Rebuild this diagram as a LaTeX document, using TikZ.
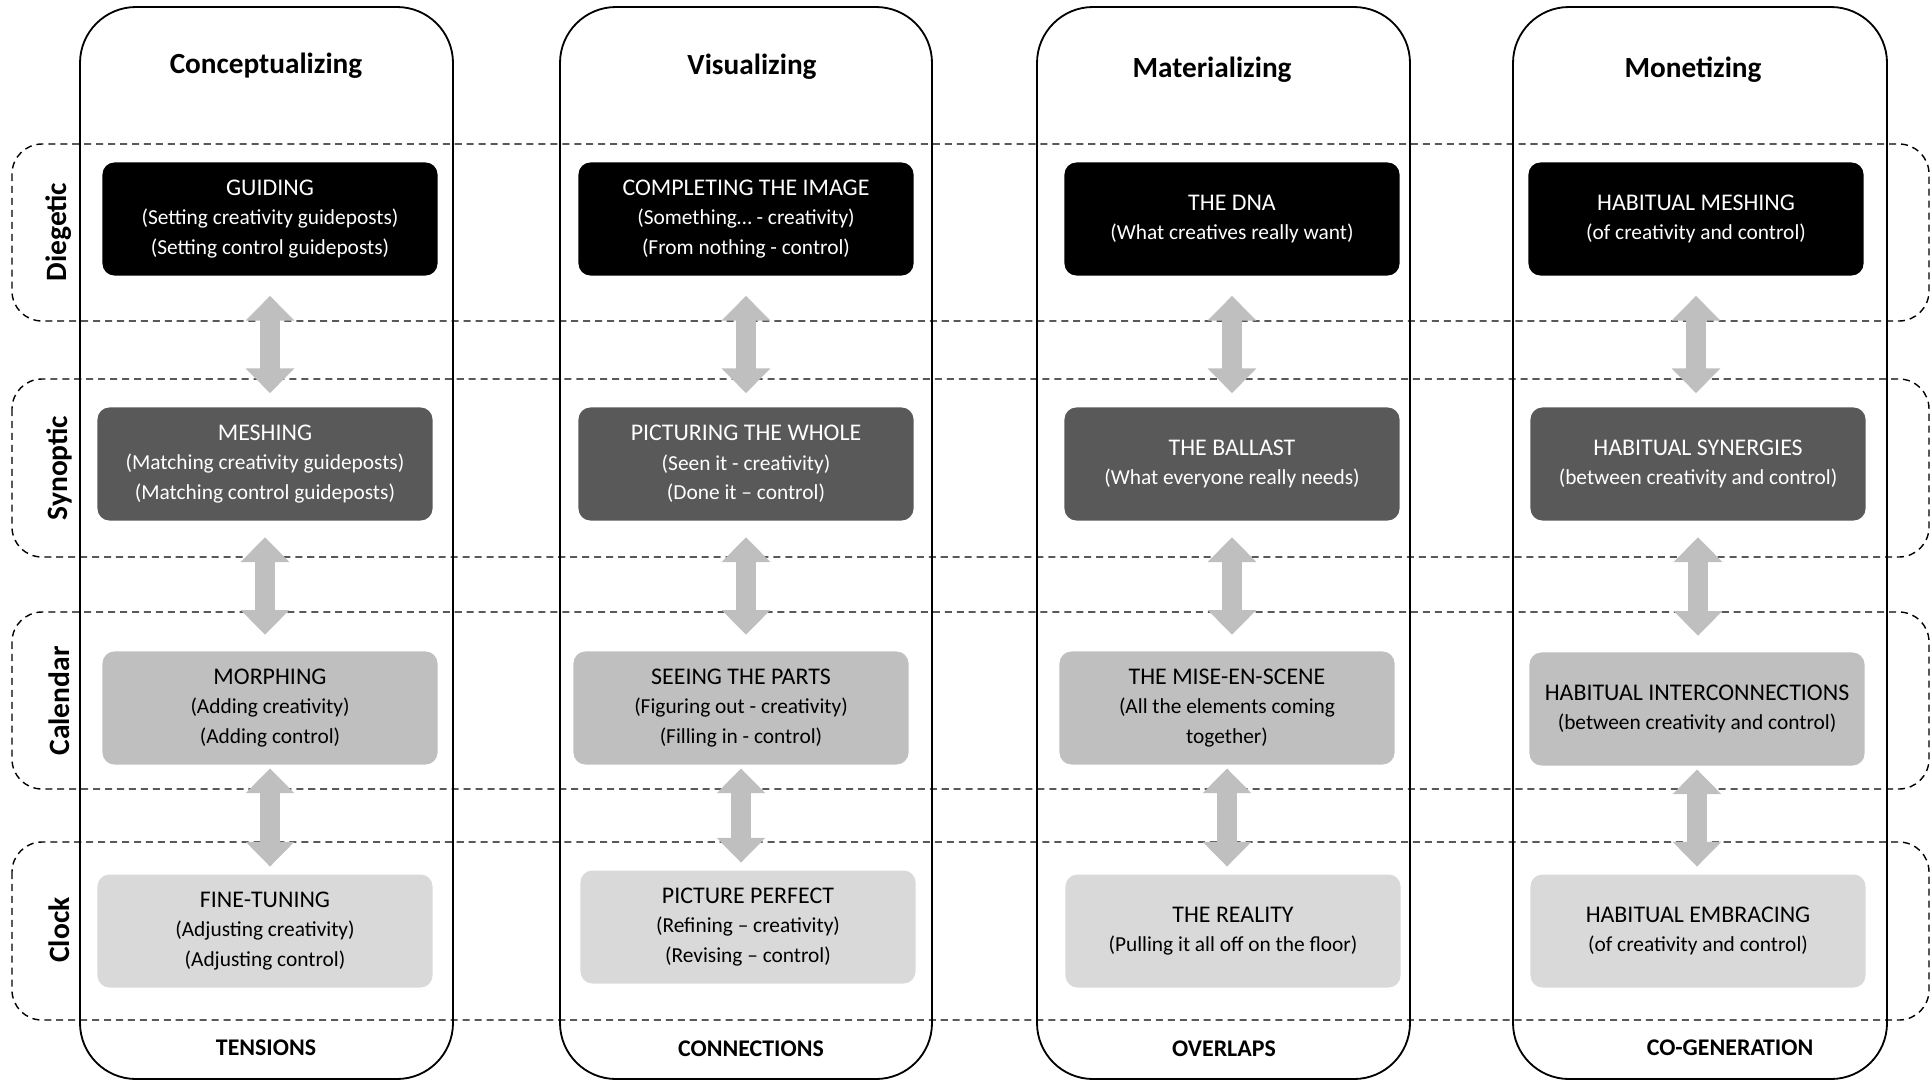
\documentclass[tikz,border=0pt]{standalone}
\usepackage{fontspec}
\setmainfont{Carlito}
\usepackage{tikz}
\usetikzlibrary{arrows.meta}
\definecolor{darkbox}{HTML}{595959}
\definecolor{midbox}{HTML}{BFBFBF}
\definecolor{lightbox}{HTML}{D9D9D9}
\definecolor{arrowgray}{HTML}{BFBFBF}
\newcommand{\stagehead}[1]{{\fontsize{17}{21}\selectfont #1}}

\begin{document}
\begin{tikzpicture}[x=0.025cm,y=-0.025cm,
		column/.style={draw,rounded corners=1.4cm,line width=1.3pt},
		band/.style={draw,dash pattern=on 5pt off 3.5pt,rounded corners=0.75cm,line width=1pt},
		title/.style={font=\fontsize{20.8}{25}\selectfont\bfseries},
		foot/.style={font=\fontsize{17}{20}\selectfont\bfseries},
		rowlabel/.style={font=\fontsize{21}{25}\selectfont\bfseries,rotate=90},
		stage/.style={rounded corners=0.3cm,minimum width=8.375cm,minimum height=2.825cm,align=center,font=\fontsize{15.2}{21}\selectfont},
		blackbox/.style={stage,fill=black,text=white},
		darkgraybox/.style={stage,fill=darkbox,text=white},
		midgraybox/.style={stage,fill=midbox,text=black},
		lightgraybox/.style={stage,fill=lightbox,text=black},
		twoway/.style={arrowgray,line width=0.5cm,{Triangle[width=1.18cm,length=0.62cm]}-{Triangle[width=1.18cm,length=0.62cm]}}]
			
			\useasboundingbox (0,0) rectangle (1931,1080);
			
			% columns
			\draw[column] (80,7) rectangle (453,1079);
			\draw[column] (560,7) rectangle (932,1079);
			\draw[column] (1037,7) rectangle (1410,1079);
			\draw[column] (1513,7) rectangle (1887,1079);
			
			% bands
			\draw[band] (12,144) rectangle (1929,321);
			\draw[band] (12,379) rectangle (1929,557);
			\draw[band] (12,612) rectangle (1929,789);
			\draw[band] (12,842) rectangle (1929,1020);
			
			\node[rowlabel] (R1) at (59,232) {Diegetic};
			\node[rowlabel] (R2) at (59,468) {Synoptic};
			\node[rowlabel] (R3) at (59,701) {Calendar};
			\node[rowlabel] (R4) at (59,930) {Clock};
			
			\node[title] (T1) at (266,66) {Conceptualizing};
			\node[title] (T2) at (752,67) {Visualizing};
			\node[title] (T3) at (1212,70) {Materializing};
			\node[title] (T4) at (1693,70) {Monetizing};
			
			\node[foot] (B1) at (266,1048) {TENSIONS};
			\node[foot] (B2) at (751,1049) {CONNECTIONS};
			\node[foot] (B3) at (1224,1049) {OVERLAPS};
			\node[foot] (B4) at (1730,1048) {CO-GENERATION};
			
			% conceptualizing
			\node[blackbox] (Dg1) at (270,219) {\stagehead{GUIDING}\\(Setting creativity guideposts)\\(Setting control guideposts)};
			\node[darkgraybox] (Sy1) at (265,464) {\stagehead{MESHING}\\(Matching creativity guideposts)\\(Matching control guideposts)};
			\node[midgraybox] (Ca1) at (270,708) {\stagehead{MORPHING}\\(Adding creativity)\\(Adding control)};
			\node[lightgraybox] (Cl1) at (265,931) {\stagehead{FINE-TUNING}\\(Adjusting creativity)\\(Adjusting control)};
			
			% visualizing
			\node[blackbox] (Dg2) at (746,219) {\stagehead{COMPLETING THE IMAGE}\\(Something… - creativity)\\(From nothing - control)};
			\node[darkgraybox] (Sy2) at (746,464) {\stagehead{PICTURING THE WHOLE}\\(Seen it - creativity)\\(Done it – control)};
			\node[midgraybox] (Ca2) at (741,708) {\stagehead{SEEING THE PARTS}\\(Figuring out - creativity)\\(Filling in - control)};
			\node[lightgraybox] (Cl2) at (748,927) {\stagehead{PICTURE PERFECT}\\(Refining – creativity)\\(Revising – control)};
			
			% materializing
			\node[blackbox] (Dg3) at (1232,219) {\stagehead{THE DNA}\\(What creatives really want)};
			\node[darkgraybox] (Sy3) at (1232,464) {\stagehead{THE BALLAST}\\(What everyone really needs)};
			\node[midgraybox] (Ca3) at (1227,708) {\stagehead{THE MISE-EN-SCENE}\\(All the elements coming\\together)};
			\node[lightgraybox] (Cl3) at (1233,931) {\stagehead{THE REALITY}\\(Pulling it all off on the floor)};
			
			% monetizing
			\node[blackbox] (Dg4) at (1696,219) {\stagehead{HABITUAL MESHING}\\(of creativity and control)};
			\node[darkgraybox] (Sy4) at (1698,464) {\stagehead{HABITUAL SYNERGIES}\\(between creativity and control)};
			\node[midgraybox] (Ca4) at (1697,709) {\stagehead{HABITUAL INTERCONNECTIONS}\\(between creativity and control)};
			\node[lightgraybox] (Cl4) at (1698,931) {\stagehead{HABITUAL EMBRACING}\\(of creativity and control)};
			
			\foreach \i in {1,2,3,4} {
				\draw[twoway,shorten <=0.5cm,shorten >=0.35cm] (Dg\i.south) -- (Dg\i.south |- Sy\i.north);
				\draw[twoway,shorten <=0.41cm,shorten >=0.41cm] (Sy\i.south) -- (Sy\i.south |- Ca\i.north);
				\draw[twoway,shorten <=0.09cm,shorten >=0.19cm] (Ca\i.south) -- (Ca\i.south |- Cl\i.north);
			}
			
		\end{tikzpicture}
\end{document}
